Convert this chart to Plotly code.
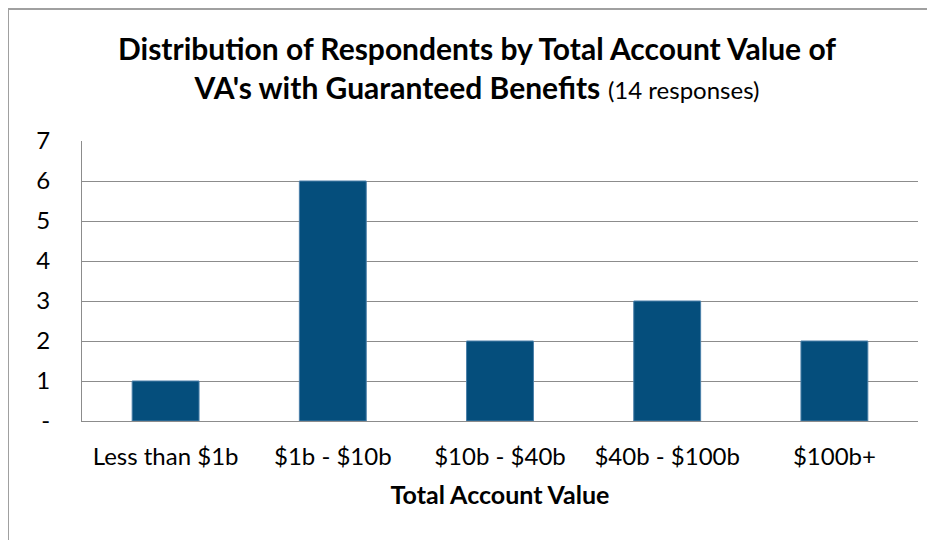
import plotly.graph_objects as go

categories = ["Less than $1b", "$1b - $10b", "$10b - $40b", "$40b - $100b", "$100b+"]
respondents = [1, 6, 2, 3, 2]
y_tick_vals = [0, 1, 2, 3, 4, 5, 6, 7]
y_tick_text = ["-", "1", "2", "3", "4", "5", "6", "7"]

FONT = "Lato, 'Open Sans', sans-serif"
PW, PH = 836, 280  # plot area size in px
L, T = 74, 133

fig = go.Figure(go.Bar(
    x=categories, y=respondents,
    marker=dict(color="#054E7C", line=dict(color="#4A7FA8", width=1)),
    width=0.4,
))

fig.update_layout(
    width=935, height=540,
    margin=dict(l=L, r=935 - L - PW, t=T, b=540 - T - PH, autoexpand=False),
    paper_bgcolor="white", plot_bgcolor="white",
    font=dict(family=FONT, size=24, color="black"),
    showlegend=False,
    title=dict(
        text="<b>Distribution of Respondents by Total Account Value of</b><br><b>VA's with Guaranteed Benefits</b> <span style='font-size:24px'>(14 responses)</span>",
        x=469/935, xanchor="center", xref="container",
        y=1 - 52/540, yanchor="top",
        font=dict(family=FONT, size=30, color="black"),
    ),
    shapes=[dict(type="rect", xref="paper", yref="paper",
                 x0=-L/PW, x1=1 + 40/PW, y0=-160/PH, y1=1 + (T - 1)/PH,
                 line=dict(color="#A0A0A0", width=2), layer="below")],
)
fig.update_xaxes(
    showgrid=False, showline=True, linecolor="#8C8C8C", linewidth=1,
    ticks="", ticklabelstandoff=14, automargin=False,
    title=dict(text="<b>Total Account Value</b>", font=dict(size=25), standoff=17),
)
fig.update_yaxes(
    range=[0, 7], tickvals=y_tick_vals, ticktext=y_tick_text,
    showgrid=True, gridcolor="#8C8C8C", gridwidth=1,
    showline=True, linecolor="#8C8C8C", linewidth=1,
    zeroline=False, ticks="", ticklabelstandoff=26, automargin=False,
)

fig.write_html("out.html")
